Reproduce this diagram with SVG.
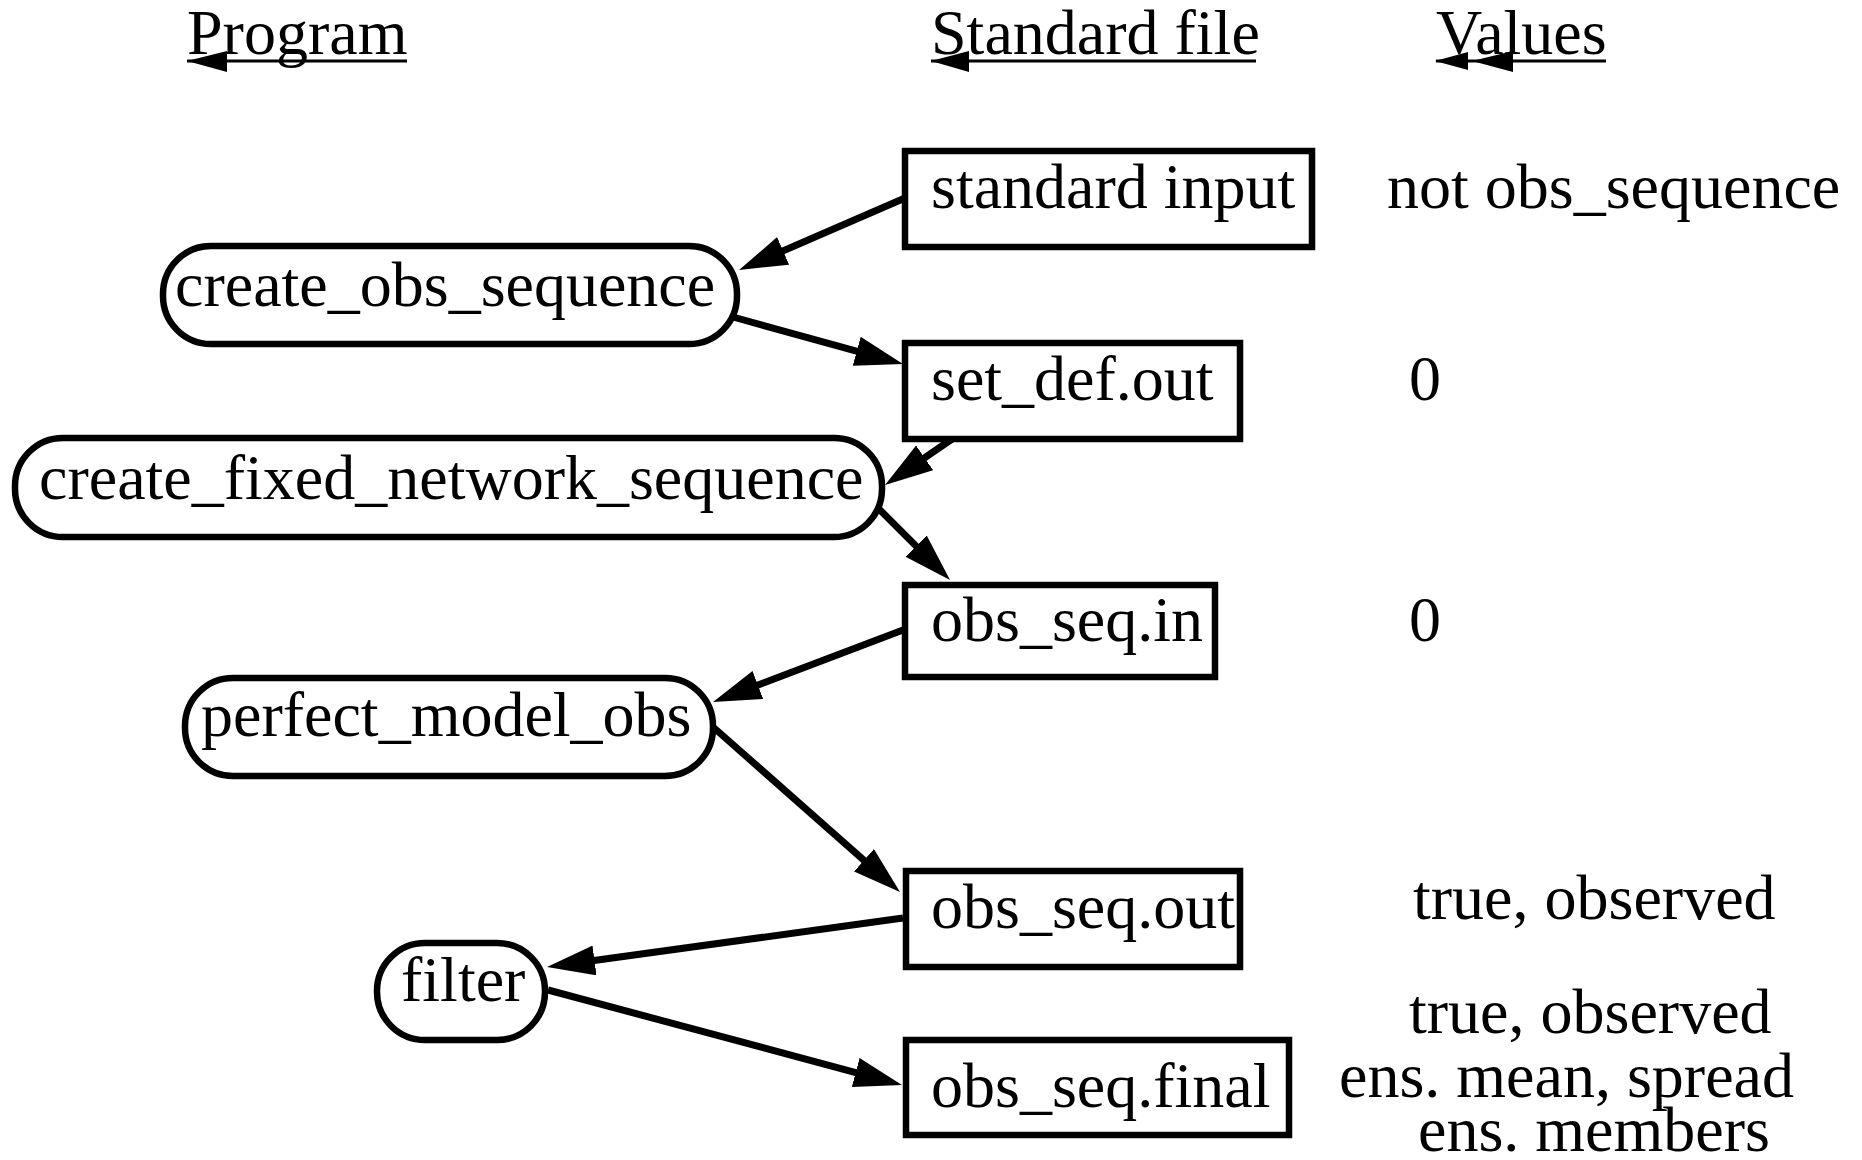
<svg xmlns="http://www.w3.org/2000/svg" width="1862" height="1160" viewBox="0 0 1862 1160">
<style>
text{font-family:"Liberation Serif","Times New Roman",serif;font-size:64px;fill:#000}
.box{fill:#fff;stroke:#000;stroke-width:6.5}
.edge{fill:none;stroke:#000;stroke-width:7}
.ul{fill:none;stroke:#000;stroke-width:3}
</style>
<defs>
<marker id="arr" markerUnits="userSpaceOnUse" viewBox="0 0 48 30" markerWidth="48" markerHeight="30" refX="28" refY="15" orient="auto">
<path d="M0,0 L48,15 L0,30 z" fill="#000"/>
</marker>
</defs>
<rect width="1862" height="1160" fill="#fff"/>
<g id="headers">
<text x="187" y="54">Program</text>
<line class="ul" x1="187" y1="61" x2="407" y2="61"/>
<polygon points="187,61 227,51 227,72"/>
<text x="931" y="54">Standard file</text>
<line class="ul" x1="931" y1="61" x2="1256" y2="61"/>
<polygon points="931,61 969,51 969,72"/>
<text x="1436" y="54">Values</text>
<line class="ul" x1="1436" y1="61" x2="1606" y2="61"/>
<polygon points="1435,61 1468,52 1468,70"/>
<polygon points="1472,61 1513,51 1513,72"/>
</g>
<g id="connectors">
<line class="edge" x1="905" y1="198" x2="757.4" y2="262" marker-end="url(#arr)"/>
<line class="edge" x1="733" y1="317" x2="883.7" y2="358.7" marker-end="url(#arr)"/>
<line class="edge" x1="955" y1="437" x2="901.5" y2="473.7" marker-end="url(#arr)"/>
<line class="edge" x1="878" y1="508" x2="935.9" y2="565.9" marker-end="url(#arr)"/>
<line class="edge" x1="903" y1="630" x2="731.7" y2="694.9" marker-end="url(#arr)"/>
<line class="edge" x1="713" y1="727" x2="885" y2="878.8" marker-end="url(#arr)"/>
<line class="edge" x1="903" y1="918" x2="566.8" y2="964.3" marker-end="url(#arr)"/>
<line class="edge" x1="548" y1="990" x2="882.7" y2="1079.8" marker-end="url(#arr)"/>
</g>
<g id="standard_input">
<rect class="box" x="905" y="151" width="407" height="96"/>
<text x="931" y="208">standard input</text>
</g>
<g id="create_obs_sequence">
<rect class="box" x="163" y="246" width="574" height="98" rx="48" ry="48"/>
<text x="175" y="306">create_obs_sequence</text>
</g>
<g id="set_def_out">
<rect class="box" x="905" y="343" width="335" height="96"/>
<text x="931" y="400">set_def.out</text>
</g>
<g id="create_fixed_network_sequence">
<rect class="box" x="15" y="438" width="867" height="99" rx="48" ry="48"/>
<text x="39" y="499">create_fixed_network_sequence</text>
</g>
<g id="obs_seq_in">
<rect class="box" x="905" y="585" width="310" height="92"/>
<text x="931" y="641">obs_seq.in</text>
</g>
<g id="perfect_model_obs">
<rect class="box" x="185" y="678" width="528" height="98" rx="48" ry="48"/>
<text x="201" y="736">perfect_model_obs</text>
</g>
<g id="obs_seq_out">
<rect class="box" x="906" y="871" width="334" height="96"/>
<text x="931" y="928">obs_seq.out</text>
</g>
<g id="filter">
<rect class="box" x="377" y="943" width="168" height="97" rx="48" ry="48"/>
<text x="401" y="1001">filter</text>
</g>
<g id="obs_seq_final">
<rect class="box" x="906" y="1040" width="383" height="95"/>
<text x="931" y="1107">obs_seq.final</text>
</g>
<g id="values">
<text x="1387" y="208">not obs_sequence</text>
<text x="1409" y="400">0</text>
<text x="1409" y="641">0</text>
<text x="1413" y="919">true, observed</text>
<text x="1409" y="1033">true, observed</text>
<text x="1339" y="1097">ens. mean, spread</text>
<text x="1418" y="1151">ens. members</text>
</g>
</svg>
